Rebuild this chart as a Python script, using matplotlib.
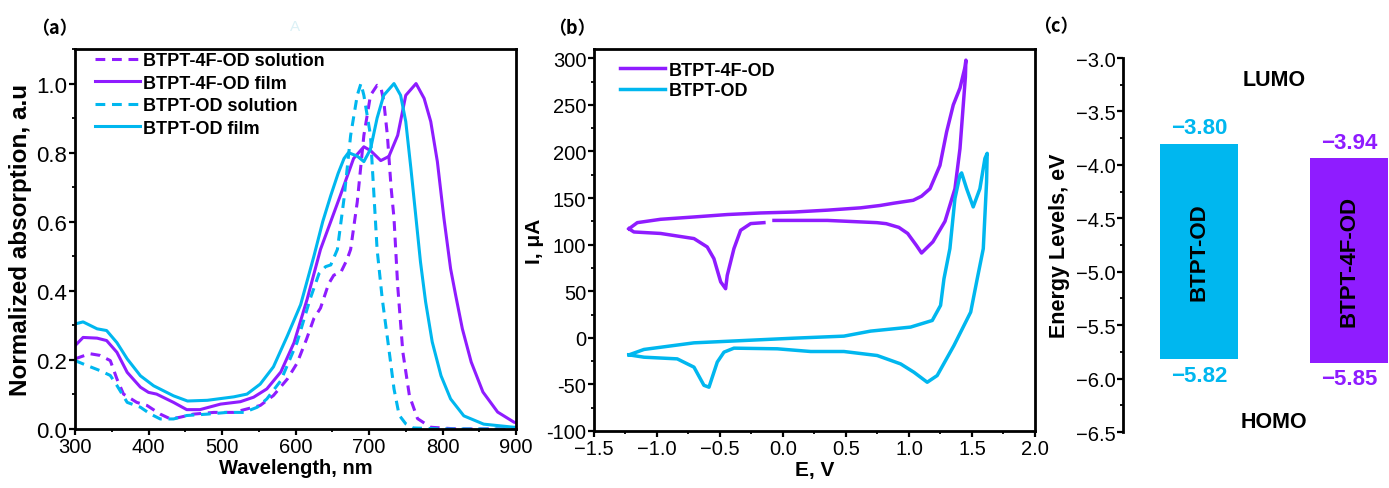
import matplotlib
matplotlib.use("Agg")
import matplotlib.pyplot as plt
import numpy as np
from matplotlib.ticker import MultipleLocator, FuncFormatter

plt.rcParams['font.family'] = ['Liberation Sans', 'DejaVu Sans']

purple = '#8F1CFF'
cyan = '#00B7EF'

# ---- (a) UV-vis absorption ----
wl_4f_sol = [300, 320, 334, 348, 357, 366, 384, 398, 416, 430, 443, 461, 489, 516, 534, 552,
             570, 589, 602, 615, 625, 634, 645, 652, 662, 670, 675, 684, 693, 702, 711, 716,
             720, 725, 730, 734, 739, 746, 755, 766, 784, 820, 900]
abs_4f_sol = [0.203, 0.218, 0.213, 0.198, 0.145, 0.101, 0.077, 0.068, 0.043, 0.029, 0.034, 0.043,
              0.048, 0.048, 0.058, 0.068, 0.097, 0.145, 0.19, 0.26, 0.32, 0.35, 0.42, 0.445, 0.455,
              0.49, 0.52, 0.657, 0.85, 0.966, 0.995, 0.99, 0.95, 0.85, 0.70, 0.61, 0.415, 0.223,
              0.096, 0.03, 0.005, 0.0, 0.0]

wl_4f_film = [300, 311, 330, 343, 357, 371, 389, 400, 411, 434, 452, 470, 498, 525, 543, 561,
              580, 598, 616, 634, 661, 679, 693, 702, 716, 727, 739, 750, 764, 775, 784, 793,
              802, 811, 818, 827, 839, 855, 875, 897, 900]
abs_4f_film = [0.241, 0.265, 0.263, 0.256, 0.222, 0.164, 0.121, 0.106, 0.101, 0.077, 0.056, 0.056,
               0.072, 0.079, 0.092, 0.116, 0.165, 0.25, 0.377, 0.52, 0.676, 0.783, 0.817, 0.806,
               0.777, 0.789, 0.85, 0.966, 1.0, 0.957, 0.89, 0.774, 0.609, 0.464, 0.386, 0.29,
               0.194, 0.107, 0.049, 0.02, 0.018]

wl_od_sol = [300, 316, 334, 348, 357, 371, 389, 402, 416, 434, 452, 480, 507, 530, 548, 561,
             580, 590, 602, 620, 632, 641, 648, 657, 666, 675, 684, 689, 693, 702, 707, 711,
             718, 727, 734, 741, 750, 760, 800, 900]
abs_od_sol = [0.198, 0.184, 0.169, 0.155, 0.126, 0.077, 0.063, 0.044, 0.029, 0.029, 0.039, 0.043,
              0.048, 0.048, 0.063, 0.087, 0.14, 0.19, 0.25, 0.377, 0.45, 0.47, 0.475, 0.52, 0.667,
              0.85, 0.966, 1.0, 0.966, 0.85, 0.667, 0.52, 0.377, 0.232, 0.116, 0.04, 0.015, 0.003,
              0.0, 0.0]

wl_od_film = [300, 311, 330, 343, 357, 371, 389, 407, 434, 453, 480, 516, 534, 552, 570, 589,
              607, 625, 637, 648, 658, 666, 672, 684, 693, 702, 711, 720, 734, 743, 750, 757,
              764, 770, 777, 786, 798, 811, 829, 856, 897, 900]
abs_od_film = [0.304, 0.31, 0.29, 0.285, 0.25, 0.203, 0.154, 0.125, 0.096, 0.081, 0.083, 0.093,
               0.101, 0.13, 0.18, 0.27, 0.36, 0.50, 0.60, 0.676, 0.74, 0.783, 0.80, 0.79, 0.774,
               0.81, 0.9, 0.966, 1.0, 0.966, 0.89, 0.754, 0.609, 0.484, 0.368, 0.252, 0.154,
               0.087, 0.038, 0.014, 0.005, 0.005]

# ---- (b) cyclic voltammetry ----
E_4f = [-1.222, -1.156, -0.971, -0.706, -0.442, -0.177, 0.087, 0.352, 0.617, 0.77, 0.881, 1.034,
        1.10, 1.167, 1.246, 1.299, 1.352, 1.405, 1.444, 1.452,
        1.448, 1.405, 1.365, 1.286, 1.19, 1.10, 1.06, 0.99, 0.92, 0.82, 0.746, 0.352, 0.087,
        -0.071, np.nan, -0.151, -0.256, -0.336, -0.389, -0.442, -0.455, -0.494, -0.548, -0.601,
        -0.706, -0.971, -1.183, -1.222]
I_4f = [117, 123.6, 127.2, 129.7, 132.3, 134, 135, 137, 139.5, 142, 144.5, 147.6,
        152, 160, 185, 221, 250, 268, 290, 298,
        280, 203, 160, 125, 103, 91, 99, 112, 118.5, 122.5, 123.6, 126, 126,
        126, np.nan, 123.6, 122.6, 115.4, 95.7, 67, 52.7, 60, 85, 97.5,
        106.5, 112, 113.6, 117]

E_od = [-1.222, -1.103, -0.706, -0.31, 0.087, 0.484, 0.696, 1.013, 1.185, 1.251, 1.278, 1.325,
        1.365, 1.405, 1.418, 1.458, 1.51, 1.563, 1.603, 1.621, 1.616, 1.59, 1.542, 1.49, 1.357,
        1.224, 1.145, 1.04, 0.934, 0.748, 0.484, 0.22, -0.045, -0.389, -0.468, -0.521, -0.587,
        -0.627, -0.706, -0.839, -1.103, -1.222]
I_od = [-18.3, -12.5, -5.4, -2.9, -0.4, 1.8, 7.2, 11.5, 18.6, 34.8, 63.4, 95.7,
        149.5, 174.6, 177, 160, 140.5, 160, 192.5, 198, 167, 95.7, 63.4, 27.6, -8.3,
        -40.5, -47.7, -37, -28, -19, -14.7, -14.7, -11.8, -11.1, -15.4, -26, -53,
        -51, -31.5, -22.6, -20.8, -18.3]

# ---- (c) energy levels ----
materials = ['BTPT-OD', 'BTPT-4F-OD']
lumo = [-3.80, -3.94]
homo = [-5.82, -5.85]
bar_colors = [cyan, purple]

fig = plt.figure(figsize=(13.89, 4.89), dpi=100)


def style_axis(ax, lw=2.0):
    for s in ax.spines.values():
        s.set_linewidth(lw)
    ax.tick_params(which='major', direction='out', length=4, width=1.6, pad=1.5)
    ax.tick_params(which='minor', direction='out', length=2.5, width=1.3)


def fmt(v):
    return ('%.2f' % v).replace('-', '\u2212')


# (a)
ax1 = fig.add_axes([0.054, 0.1207, 0.3175, 0.777])
ax1.plot(wl_4f_sol, abs_4f_sol, color=purple, lw=2.2, ls=(0, (3.2, 2.2)), label='BTPT-4F-OD solution')
ax1.plot(wl_4f_film, abs_4f_film, color=purple, lw=2.2, label='BTPT-4F-OD film')
ax1.plot(wl_od_sol, abs_od_sol, color=cyan, lw=2.2, ls=(0, (3.2, 2.2)), label='BTPT-OD solution')
ax1.plot(wl_od_film, abs_od_film, color=cyan, lw=2.2, label='BTPT-OD film')
ax1.set_xlim(300, 900)
ax1.set_ylim(0, 1.1)
ax1.xaxis.set_major_locator(MultipleLocator(100))
ax1.xaxis.set_minor_locator(MultipleLocator(50))
ax1.yaxis.set_major_locator(MultipleLocator(0.2))
ax1.yaxis.set_minor_locator(MultipleLocator(0.1))
style_axis(ax1)
ax1.tick_params(axis='x', labelsize=14.5)
ax1.tick_params(axis='y', labelsize=16)
ax1.set_xlabel('Wavelength, nm', fontsize=14.5, fontweight='bold', labelpad=2)
ax1.set_ylabel('Normalized absorption, a.u', fontsize=17.5, fontweight='bold', labelpad=3)
ax1.legend(loc='upper left', bbox_to_anchor=(0.02, 1.02), frameon=False,
           prop={'weight': 'bold', 'size': 13}, handlelength=2.5, handletextpad=0.15,
           labelspacing=0.3, borderaxespad=0.2)

# (b)
ax2 = fig.add_axes([0.4276, 0.1166, 0.3175, 0.7812])
ax2.plot(E_4f, I_4f, color=purple, lw=2.5, label='BTPT-4F-OD')
ax2.plot(E_od, I_od, color=cyan, lw=2.5, label='BTPT-OD')
ax2.set_xlim(-1.5, 2.0)
ax2.set_ylim(-100, 310)
ax2.xaxis.set_major_locator(MultipleLocator(0.5))
ax2.xaxis.set_minor_locator(MultipleLocator(0.25))
ax2.yaxis.set_major_locator(MultipleLocator(50))
ax2.yaxis.set_minor_locator(MultipleLocator(25))
ax2.yaxis.set_major_formatter(FuncFormatter(lambda v, p: '%d' % v))
style_axis(ax2)
ax2.tick_params(labelsize=14.5)
ax2.set_xlabel('E, V', fontsize=15, fontweight='bold', labelpad=2)
ax2.set_ylabel('I, μA', fontsize=15, fontweight='bold', labelpad=2)
ax2.legend(loc='upper left', bbox_to_anchor=(0.03, 1.0), frameon=False,
           prop={'weight': 'bold', 'size': 13}, handlelength=2.5, handletextpad=0.2,
           labelspacing=0.2, borderaxespad=0.3)

# (c)
ax3 = fig.add_axes([0.8085, 0.1145, 0.1915, 0.7648])
pos = np.arange(len(materials))
ax3.bar(pos, np.array(lumo) - np.array(homo), bottom=homo, width=0.52, color=bar_colors)
for i in pos:
    ax3.annotate(fmt(lumo[i]), (pos[i], lumo[i]), xytext=(0, 4), textcoords='offset points',
                 ha='center', va='bottom', color=bar_colors[i], fontsize=16, fontweight='bold')
    ax3.annotate(fmt(homo[i]), (pos[i], homo[i]), xytext=(0, -4), textcoords='offset points',
                 ha='center', va='top', color=bar_colors[i], fontsize=16, fontweight='bold')
    ax3.text(pos[i], (lumo[i] + homo[i]) / 2, materials[i], rotation=90, ha='center', va='center',
             fontsize=16, fontweight='bold')
ax3.text(0.5, -3.2, 'LUMO', ha='center', va='center', fontsize=15.5, fontweight='bold')
ax3.text(0.5, -6.4, 'HOMO', ha='center', va='center', fontsize=15.5, fontweight='bold')
ax3.set_xlim(-0.507, 1.267)
ax3.set_ylim(-6.5, -3.0)
ax3.yaxis.set_major_locator(MultipleLocator(0.5))
ax3.yaxis.set_minor_locator(MultipleLocator(0.25))
for s in ['top', 'right', 'bottom']:
    ax3.spines[s].set_visible(False)
ax3.set_xticks([])
style_axis(ax3)
ax3.tick_params(labelsize=14.5)
ax3.set_ylabel('Energy Levels, eV', fontsize=15.5, fontweight='bold', labelpad=4)

# panel tags
tag_font = ['Noto Sans CJK SC', 'DejaVu Sans']
fig.text(31 / 1389, 1 - 29 / 489, '（a）', family=tag_font, fontsize=13, fontweight='bold', va='center')
fig.text(548 / 1389, 1 - 29 / 489, '（b）', family=tag_font, fontsize=13, fontweight='bold', va='center')
fig.text(1033 / 1389, 1 - 27 / 489, '（c）', family=tag_font, fontsize=13, fontweight='bold', va='center')
fig.text(295 / 1389, 1 - 27 / 489, 'A', fontsize=11, color='#dcf1f6', ha='center', va='center')

fig.savefig('out.png', dpi=100)
